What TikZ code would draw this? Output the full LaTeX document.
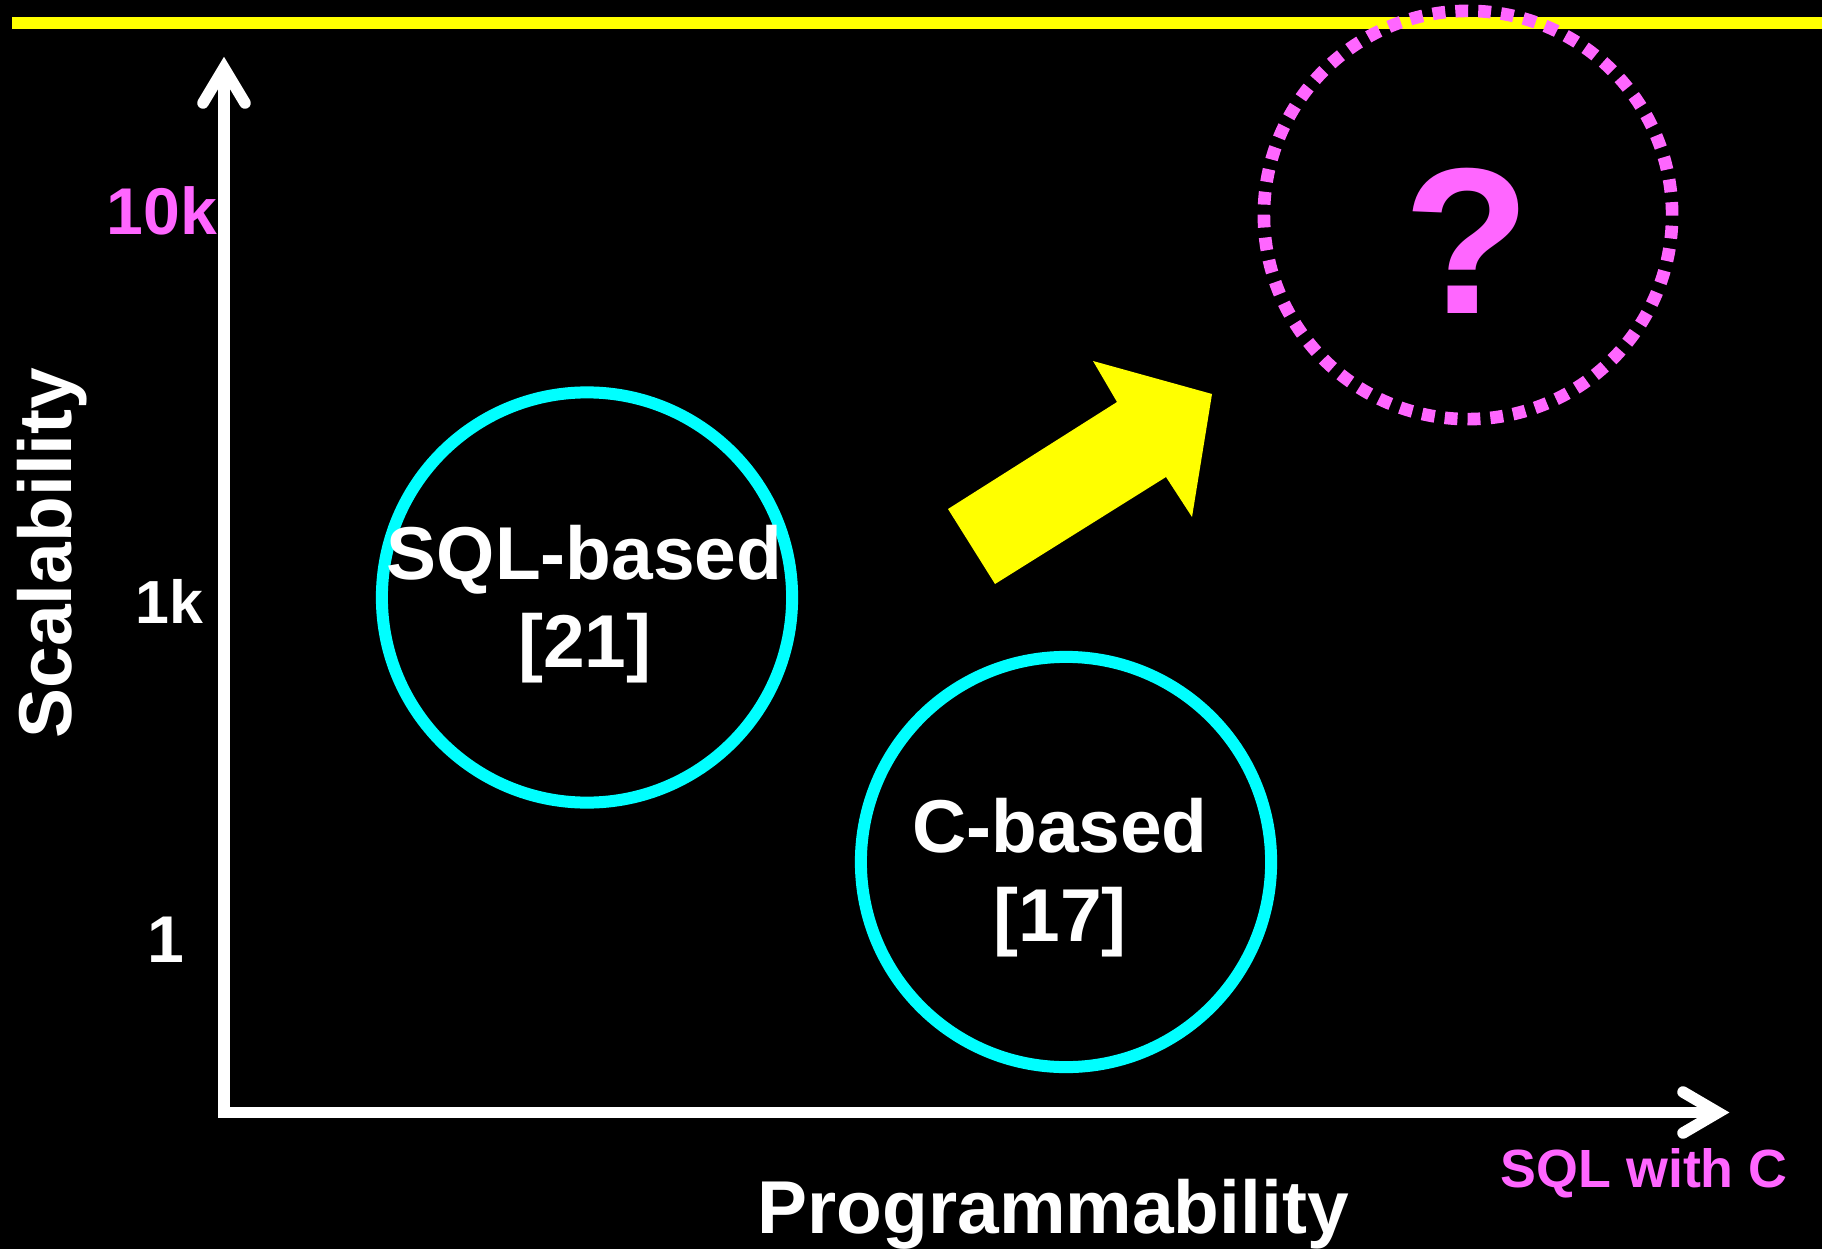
\documentclass[tikz,border=0pt]{standalone}
\usepackage{fontspec}
\setmainfont{Liberation Sans}
\definecolor{barYellow}{HTML}{FFFF00}
\definecolor{ringCyan}{HTML}{00FFFF}
\definecolor{hotPink}{HTML}{FF66FF}
\tikzset{
  axisline/.style={draw=white, line width=3.27pt},
  ring/.style={circle, draw=ringCyan, line width=3.41pt, minimum size=4.1cm, inner sep=0pt},
  biglabel/.style={text=white, inner sep=0pt, font=\bfseries\fontsize{21.3}{25}\selectfont},
  ticklabel/.style={text=white, inner sep=0pt, font=\bfseries\fontsize{18.8}{22}\selectfont},
}
\begin{document}
\begin{tikzpicture}[x=0.01cm, y=-0.01cm]
  % page background
  \fill[black] (0,0) rectangle (1822,1249);
  \useasboundingbox (0,0) rectangle (1822,1249);

  % header rule
  \fill[barYellow] (12,17) rectangle (1822,29);

  % axes with open chevron heads
  \coordinate (origin) at (224,1112.5);
  \coordinate (ytop) at (224,68);
  \coordinate (xend) at (1718,1112.5);
  \draw[axisline, line join=miter] (ytop) -- (origin) -- (xend);
  \draw[axisline, line cap=round, line join=miter]
    ([shift={(-21,35)}]ytop) -- (ytop) -- ([shift={(21,35)}]ytop);
  \draw[axisline, line cap=round, line join=miter]
    ([shift={(-35,-20.5)}]xend) -- (xend) -- ([shift={(-35,20.5)}]xend);

  % axis titles
  \node[biglabel, rotate=90, anchor=base west] (ytitle) at (71,739) {Scalability};
  \node[biglabel, anchor=base west] (xtitle) at (757,1233) {Programmability};
  \node[text=hotPink, inner sep=0pt, font=\bfseries\fontsize{15.3}{18}\selectfont,
        anchor=base west] (xnote) at (1500,1187) {SQL with C};

  % tick labels
  \node[ticklabel, text=hotPink, anchor=base east] (t10k) at (218,235) {10k};
  \node[ticklabel, font=\bfseries\fontsize{17.3}{20}\selectfont, anchor=base east] (t1k) at (204,623) {1k};
  \node[ticklabel, anchor=base] (t1) at (166,962) {1};

  % existing approaches
  \node[ring] (sqlring) at (587,597.5) {};
  \node[biglabel, anchor=base] (sqlname) at (584.5,579) {SQL-based};
  \node[biglabel, anchor=base] (sqlref) at (585,667) {[21]};

  \node[ring] (cring) at (1066,862) {};
  \node[biglabel, anchor=base] (cname) at (1060,852) {C-based};
  \node[biglabel, anchor=base] (cref) at (1060,941) {[17]};

  % direction of the goal
  \fill[barYellow] (948,509) -- (1117,402) -- (1093,361) -- (1212,394)
    -- (1192,517) -- (1166,477) -- (995,584) -- cycle;

  % open target
  \node[circle, draw=hotPink, line width=3.6pt, minimum size=4.08cm, inner sep=0pt,
        dash pattern=on 3.65pt off 2.86pt] (goal) at (1468,215) {};
  \node[text=hotPink, inner sep=0pt, font=\bfseries\fontsize{59.2}{60}\selectfont,
        anchor=base] (qmark) at (1467,314) {?};
\end{tikzpicture}
\end{document}
